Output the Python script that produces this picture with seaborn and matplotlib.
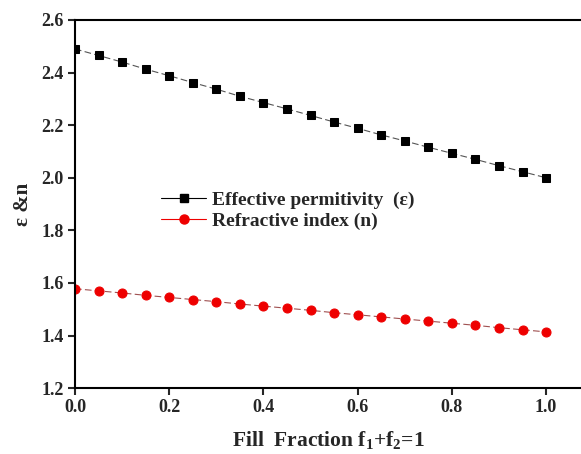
import numpy as np
import matplotlib
matplotlib.use('Agg')
import matplotlib.pyplot as plt
from matplotlib.lines import Line2D
import pandas as pd
import seaborn as sns

# fill fraction and the two curves
fill_fraction = [0.00, 0.05, 0.10, 0.15, 0.20, 0.25, 0.30, 0.35, 0.40, 0.45, 0.50,
                 0.55, 0.60, 0.65, 0.70, 0.75, 0.80, 0.85, 0.90, 0.95, 1.00]
permitivity = [2.490, 2.465, 2.440, 2.413, 2.388, 2.362, 2.337, 2.310, 2.286, 2.262, 2.237,
               2.212, 2.188, 2.163, 2.140, 2.116, 2.093, 2.070, 2.046, 2.023, 2.000]
refr_index = [1.578, 1.570, 1.562, 1.553, 1.545, 1.537, 1.529, 1.520, 1.512, 1.504, 1.496,
              1.487, 1.479, 1.471, 1.463, 1.455, 1.447, 1.439, 1.430, 1.422, 1.414]

lbl_eps = 'Effective permitivity  (\u03b5)'
lbl_n = 'Refractive index (n)'

sns.set_theme(style="ticks")
plt.rcParams['font.family'] = ['Liberation Serif', 'DejaVu Serif']
plt.rcParams['font.weight'] = 'bold'
plt.rcParams['mathtext.fontset'] = 'custom'
plt.rcParams['mathtext.rm'] = 'Liberation Serif:bold'
plt.rcParams['mathtext.bf'] = 'Liberation Serif:bold'
plt.rcParams['mathtext.default'] = 'bf'

df = pd.DataFrame({'x': fill_fraction * 2,
                   'y': permitivity + refr_index,
                   'series': [lbl_eps] * len(fill_fraction) + [lbl_n] * len(fill_fraction)})

fig = plt.figure(figsize=(5.81, 4.54), dpi=100)
ax = fig.add_axes([0.129, 0.145, 0.871, 0.811])

sns.lineplot(data=df[df.series == lbl_eps], x='x', y='y', ax=ax, color='#555555',
             linestyle=(0, (6, 3)), linewidth=0.8, marker='s', markersize=5.5,
             markerfacecolor='black', markeredgecolor='black', legend=False)
sns.lineplot(data=df[df.series == lbl_n], x='x', y='y', ax=ax, color='#a05050',
             linestyle=(0, (6, 3)), linewidth=0.8, marker='o', markersize=6.5,
             markerfacecolor='#ee0000', markeredgecolor='#ee0000', legend=False)

ax.set_xlim(0, 1.074)
ax.set_ylim(1.2, 2.6)
ax.set_xticks(np.arange(0, 1.01, 0.2))
ax.set_yticks(np.arange(1.2, 2.61, 0.2))
ax.xaxis.set_major_formatter(matplotlib.ticker.FormatStrFormatter('%.1f'))
ax.yaxis.set_major_formatter(matplotlib.ticker.FormatStrFormatter('%.1f'))
ax.tick_params(axis='both', direction='out', length=5, width=1.5, labelsize=13, pad=3)
for t in ax.get_xticklabels() + ax.get_yticklabels():
    t.set_fontweight('bold')
for s in ['left', 'bottom', 'top']:
    ax.spines[s].set_linewidth(1.5)
    ax.spines[s].set_color('black')
ax.spines['right'].set_visible(False)

ax.set_xlabel('Fill  Fraction f$_1$+f$_2$=1', fontsize=15.5, fontweight='bold', labelpad=9)
ax.set_ylabel('\u03b5 &n', fontsize=15, fontweight='bold', labelpad=6)

handles = [Line2D([], [], color='black', lw=0.8, marker='s', markersize=5.5, markerfacecolor='black'),
           Line2D([], [], color='#ee0000', lw=0.8, marker='o', markersize=6.5,
                  markerfacecolor='#ee0000', markeredgecolor='#ee0000')]
ax.legend(handles, [lbl_eps, lbl_n], loc='upper left', bbox_to_anchor=(0.155, 0.555),
          frameon=False, prop={'weight': 'bold', 'size': 14}, handlelength=2.3,
          handletextpad=0.3, labelspacing=0.15, borderaxespad=0)

plt.savefig('out.png', dpi=100)
plt.close()
